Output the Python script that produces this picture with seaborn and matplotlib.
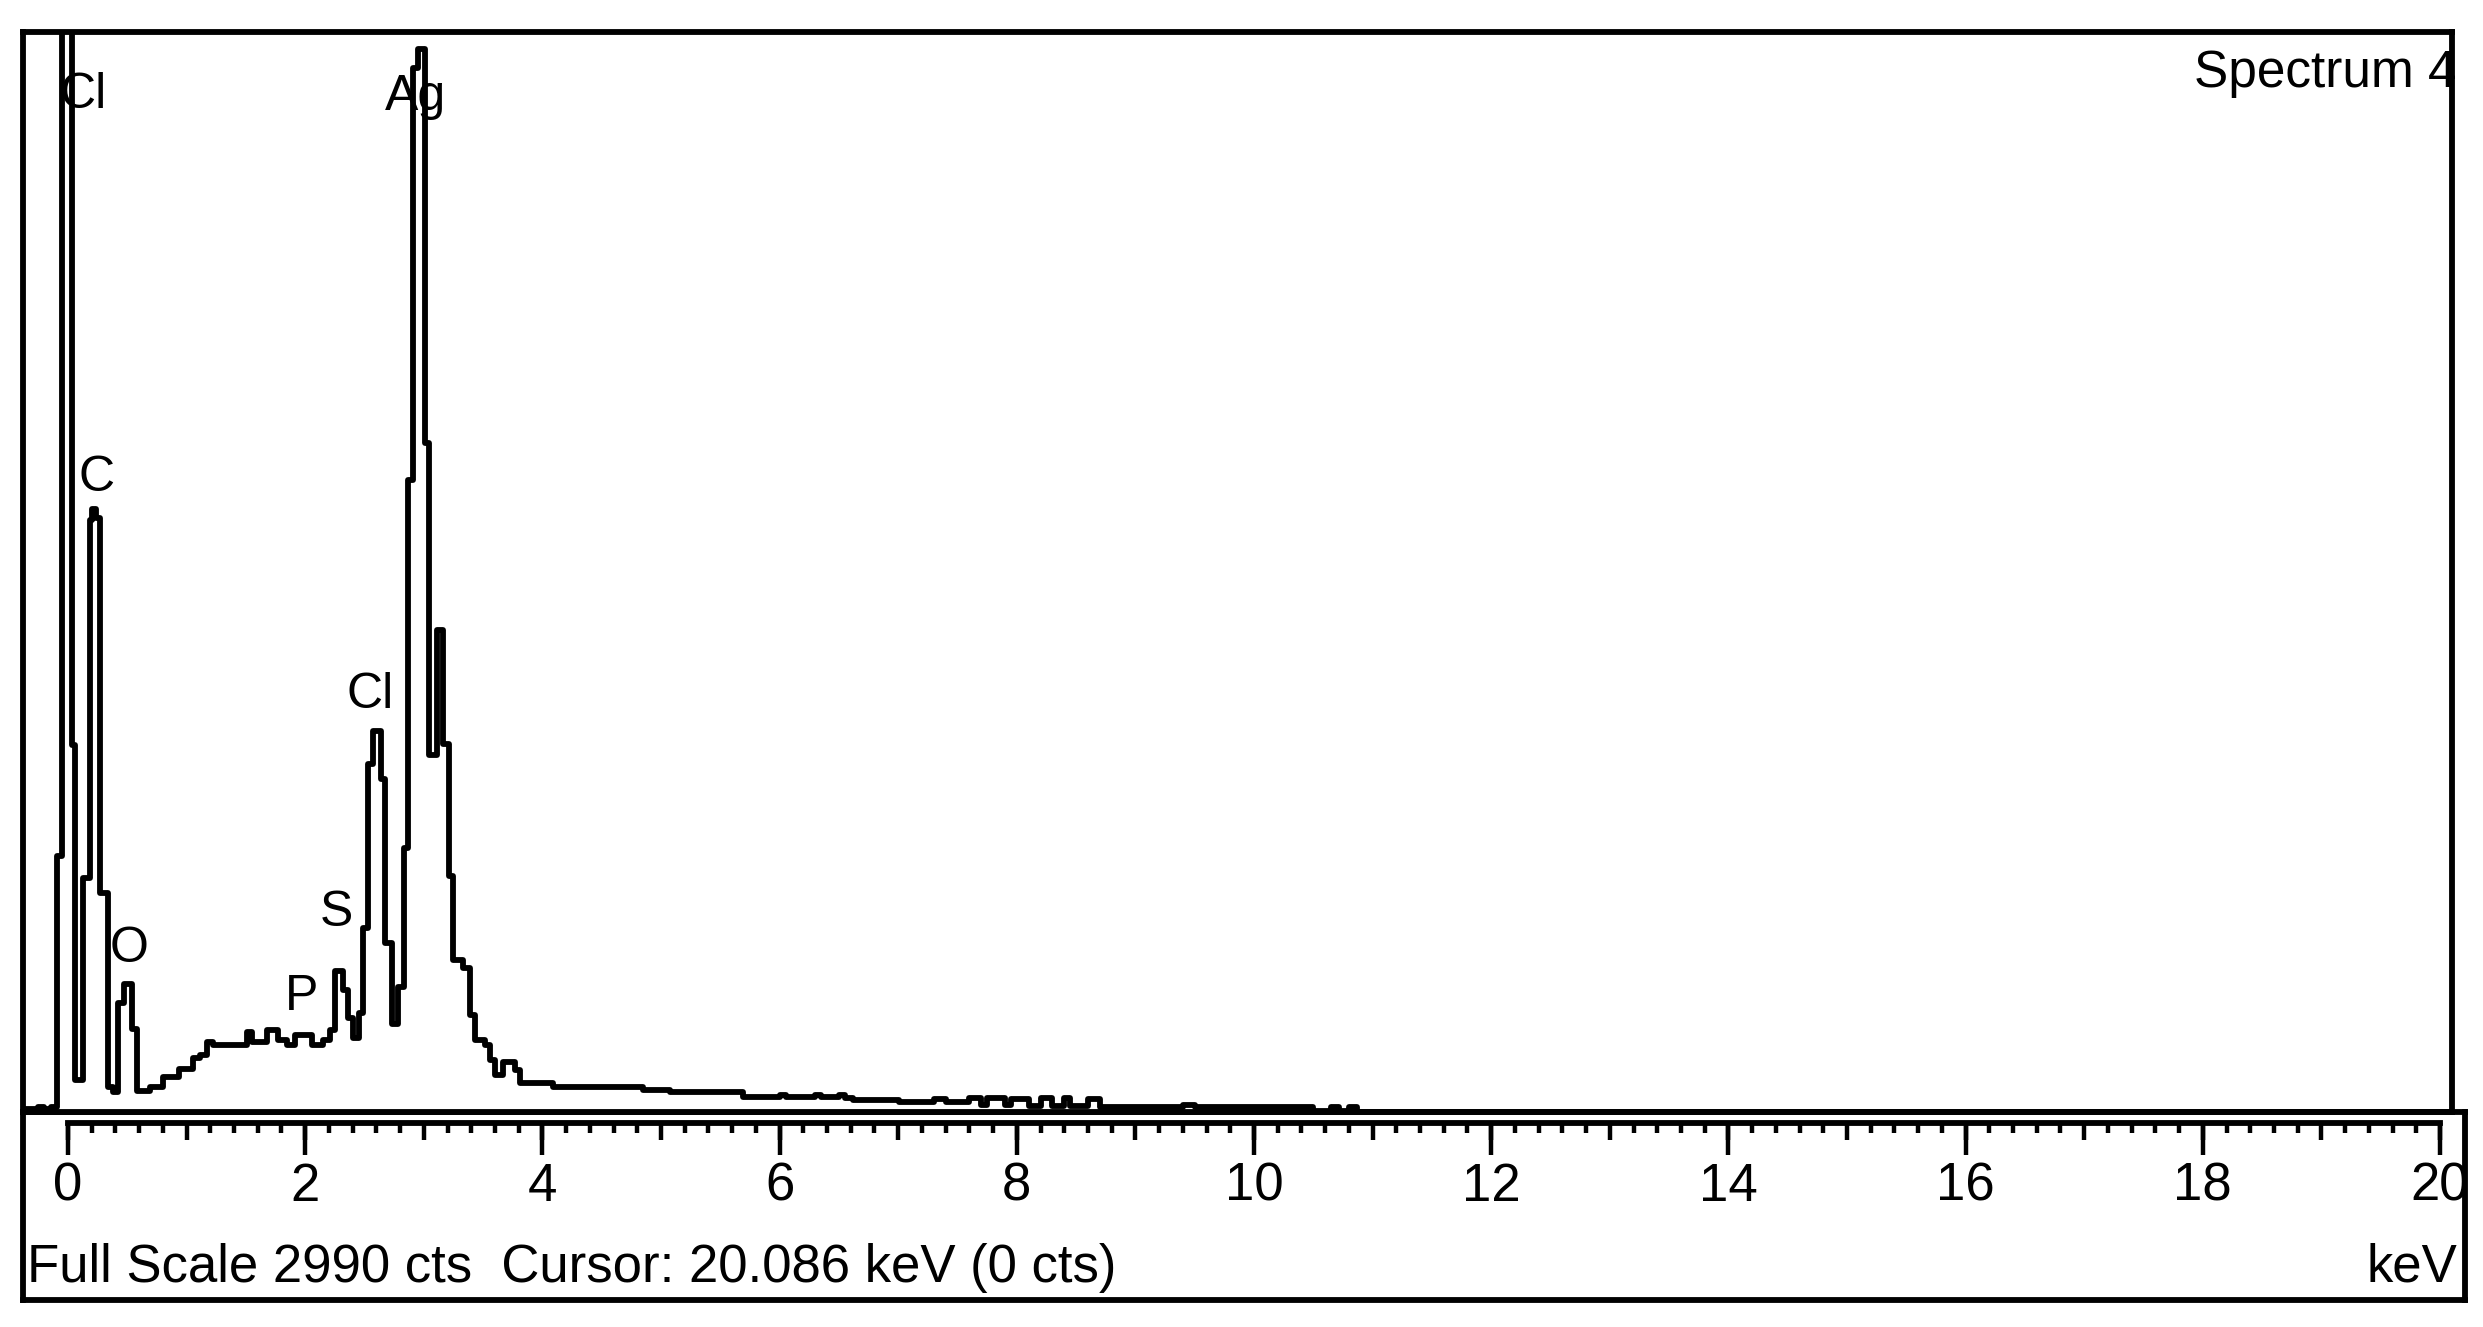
import numpy as np
import pandas as pd
import matplotlib
matplotlib.use('Agg')
import matplotlib.pyplot as plt
import seaborn as sns

# spectrum: bin start energy (keV) and counts
energy_kev = [-0.38, -0.25, -0.20, -0.14, -0.095, -0.053, 0.031, 0.059, 0.13, 0.185,
              0.20, 0.235, 0.27, 0.34, 0.38, 0.42, 0.47, 0.54, 0.58, 0.69,
              0.80, 0.94, 1.05, 1.11, 1.17, 1.22, 1.51, 1.55, 1.68, 1.77,
              1.85, 1.91, 2.06, 2.15, 2.21, 2.25, 2.32, 2.36, 2.40, 2.45,
              2.49, 2.53, 2.57, 2.64, 2.67, 2.73, 2.78, 2.83, 2.87, 2.91,
              2.95, 3.01, 3.04, 3.11, 3.16, 3.21, 3.25, 3.33, 3.39, 3.43,
              3.52, 3.56, 3.60, 3.67, 3.77, 3.81, 4.09, 4.85, 5.08, 5.69,
              6.00, 6.05, 6.30, 6.35, 6.50, 6.55, 6.62, 7.01, 7.30, 7.40,
              7.60, 7.70, 7.75, 7.90, 7.95, 8.10, 8.20, 8.30, 8.40, 8.45,
              8.60, 8.70, 9.40, 9.50, 10.50, 10.65, 10.72, 10.80, 10.87, 20.2]
counts = [8, 15, 8, 15, 710, 3400, 1015, 89, 649, 1640,
          1670, 1645, 607, 69, 55, 302, 353, 231, 58, 68,
          98, 119, 150, 158, 194, 186, 222, 194, 227, 200,
          186, 214, 186, 200, 227, 390, 338, 260, 205, 274,
          510, 963, 1055, 921, 469, 243, 346, 732, 1750, 2890,
          2943, 1853, 988, 1334, 1018, 652, 420, 399, 269, 200,
          186, 144, 103, 139, 117, 80, 69, 61, 55, 42,
          48, 42, 48, 42, 48, 40, 33, 28, 36, 28,
          38, 18, 38, 18, 36, 16, 38, 16, 40, 16,
          36, 14, 18, 14, 3, 15, 3, 15, 0, 0]

full_scale = 2990

peak_names = ['Cl', 'C', 'O', 'P', 'S', 'Cl', 'Ag']
peak_kev = [0.13, 0.24, 0.515, 1.97, 2.26, 2.55, 2.93]
peak_label_cts = [2815, 1755, 450, 318, 552, 1155, 2810]

tick_values = list(range(0, 21, 2))

# pixel layout of the original screen grab
W, H = 2483, 1327
ZERO_PX, PX_PER_KEV = 68, 118.6


def kev(px):
    return (px - ZERO_PX) / PX_PER_KEV


def box(x0, y0, x1, y1):
    return [x0 / W, 1 - y1 / H, (x1 - x0) / W, (y1 - y0) / H]


sns.set_style('white')
plt.rcParams['font.family'] = ['Liberation Sans', 'DejaVu Sans']

lw = 4.2
fig = plt.figure(figsize=(W / 100, H / 100), dpi=100)
fig.patch.set_facecolor('white')

# lower panel (ruler + status line)
ax_low = fig.add_axes(box(23, 1112, 2465, 1300), label='low')
ax_low.set_xticks([])
ax_low.set_yticks([])
for s in ax_low.spines.values():
    s.set_visible(True)
    s.set_color('black')
    s.set_linewidth(lw)

# spectrum panel
ax = fig.add_axes(box(23, 32, 2452, 1112), label='main')
df = pd.DataFrame({'keV': energy_kev, 'counts': counts})
sns.lineplot(data=df, x='keV', y='counts', drawstyle='steps-post',
             color='black', linewidth=lw, ax=ax)
ax.set_xlim(kev(23), kev(2452))
ax.set_ylim(0, full_scale)
ax.set_xticks([])
ax.set_yticks([])
ax.set_xlabel('')
ax.set_ylabel('')
for s in ax.spines.values():
    s.set_visible(True)
    s.set_color('black')
    s.set_linewidth(lw)

for name, x, y in zip(peak_names, peak_kev, peak_label_cts):
    ax.text(x, y, name, fontsize=36, ha='center', va='center', color='black', zorder=1)

# ruler: integer and 0.2 keV ticks
ax_r = fig.add_axes(box(23, 1112, 2465, 1123), facecolor='none', label='ruler')
ax_r.set_xlim(kev(23), kev(2465))
ax_r.set_yticks([])
for side in ['top', 'left', 'right']:
    ax_r.spines[side].set_visible(False)
ax_r.spines['bottom'].set_color('black')
ax_r.spines['bottom'].set_linewidth(lw)
ax_r.spines['bottom'].set_bounds(0, 20)
ax_r.set_xticks(np.arange(0, 21, 1))
ax_r.set_xticks(np.arange(0, 20.01, 0.2), minor=True)
ax_r.tick_params(which='major', bottom=True, direction='out', length=12.2, width=3.2,
                 color='black', labelbottom=False)
ax_r.tick_params(which='minor', bottom=True, direction='out', length=7.2, width=3.2,
                 color='black')

# long ticks with labels every 2 keV
ax_e = fig.add_axes(box(23, 1112, 2465, 1123), facecolor='none', label='even')
ax_e.set_xlim(kev(23), kev(2465))
ax_e.set_yticks([])
for s in ax_e.spines.values():
    s.set_visible(False)
ax_e.set_xticks(tick_values)
ax_e.set_xticklabels([str(v) for v in tick_values])
ax_e.tick_params(which='major', bottom=True, direction='out', length=23, width=3.2,
                 color='black', labelcolor='black', labelsize=38, pad=5)

fig.text(2457 / W, 1 - 74 / H, 'Spectrum 4', fontsize=37, ha='right', va='center', color='black')
fig.text(27 / W, 1 - 1282 / H, 'Full Scale 2990 cts  Cursor: 20.086 keV (0 cts)',
         fontsize=38, ha='left', va='baseline', color='black')
fig.text(2457 / W, 1 - 1282 / H, 'keV', fontsize=38, ha='right', va='baseline', color='black')

fig.savefig('out.png', dpi=100, facecolor='white')
